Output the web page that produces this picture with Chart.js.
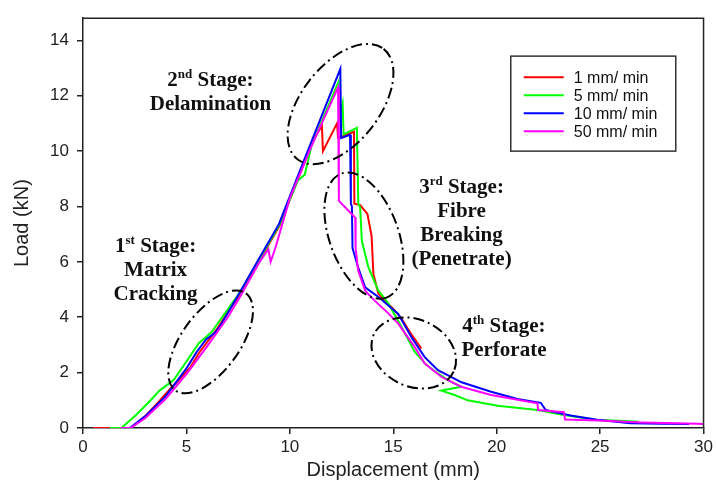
<!DOCTYPE html>
<html><head><meta charset="utf-8">
<script src="https://cdn.jsdelivr.net/npm/chart.js@4.4.0/dist/chart.umd.min.js"></script>
<style>html,body{margin:0;padding:0;background:#fff}</style>
</head><body>
<canvas id="c" width="716" height="490"></canvas>
<script>
// ---- data ----
const seriesNames = ['1 mm/ min', '5 mm/ min', '10 mm/ min', '50 mm/ min'];
const xTickValues = [0, 5, 10, 15, 20, 25, 30];
const yTickValues = [0, 2, 4, 6, 8, 10, 12, 14];

const dispR = [0.5, 1.3, 2.3, 3.0, 3.6, 4.2, 4.66, 5.2, 5.6, 6.5, 7.55, 8.5, 9.5, 10.5, 11.2, 11.55, 11.6, 12.28, 12.33, 13.1, 13.12, 13.4, 13.75, 13.95, 14.04, 14.28, 14.6, 15.0, 15.4, 15.7, 16.0, 16.36];
const loadR = [0, 0, 0, 0.42, 0.9, 1.4, 1.76, 2.2, 2.7, 3.6, 4.8, 6.0, 7.3, 9.2, 10.5, 10.9, 10.0, 11.0, 10.48, 10.7, 8.1, 8.05, 7.73, 6.95, 5.56, 4.85, 4.6, 4.3, 3.95, 3.58, 3.25, 2.87];

const dispG = [1.3, 1.86, 2.6, 3.2, 3.7, 4.2, 4.4, 5.0, 5.6, 6.2, 7.55, 8.5, 9.5, 10.4, 10.72, 11.05, 12.35, 12.4, 12.55, 12.6, 13.24, 13.31, 13.4, 13.48, 13.8, 14.28, 14.76, 15.4, 16.04, 16.6, 17.16, 17.7, 18.3, 17.32, 17.96, 18.6, 20.05, 21.97, 23.25, 24.86, 26.0, 26.86];
const loadG = [0, 0, 0.5, 0.95, 1.35, 1.63, 1.75, 2.4, 3.06, 3.45, 4.86, 6.05, 7.35, 8.95, 9.15, 10.2, 12.5, 11.3, 11.74, 10.6, 10.84, 8.1, 7.96, 6.76, 5.8, 4.96, 4.5, 3.65, 2.75, 2.28, 1.97, 1.7, 1.49, 1.35, 1.19, 1.0, 0.8, 0.65, 0.47, 0.29, 0.26, 0.23];

const dispB = [1.9, 2.26, 3.0, 4.0, 5.0, 5.5, 5.95, 6.35, 6.6, 7.55, 8.5, 9.47, 10.67, 12.44, 12.48, 12.91, 12.95, 13.0, 13.03, 13.3, 13.64, 14.3, 15.24, 15.88, 16.52, 17.16, 18.3, 19.73, 21.0, 22.13, 22.37, 23.57, 24.86, 26.46, 28.0, 29.3];
const loadB = [0, 0, 0.42, 1.15, 2.15, 2.75, 3.2, 3.42, 3.65, 4.86, 6.1, 7.36, 9.64, 12.97, 10.47, 10.59, 8.1, 8.0, 6.5, 5.8, 5.08, 4.72, 4.12, 3.28, 2.56, 2.09, 1.65, 1.31, 1.05, 0.91, 0.65, 0.45, 0.3, 0.17, 0.15, 0.14];

const dispM = [1.8, 2.3, 3.0, 4.0, 5.0, 6.0, 7.0, 7.6, 8.5, 8.96, 9.07, 9.3, 10.0, 11.0, 12.33, 12.37, 13.0, 13.16, 13.18, 13.3, 13.64, 14.1, 14.76, 15.24, 16.04, 16.52, 17.32, 18.28, 19.73, 21.97, 22.0, 23.25, 23.3, 24.9, 27.0, 29.7, 30.0];
const loadM = [0, 0, 0.35, 1.05, 1.95, 2.95, 4.0, 4.75, 5.95, 6.46, 6.0, 6.5, 8.3, 10.1, 12.3, 8.2, 7.72, 7.6, 6.5, 5.7, 4.96, 4.6, 4.14, 3.77, 2.92, 2.33, 1.85, 1.49, 1.19, 0.89, 0.65, 0.57, 0.31, 0.27, 0.2, 0.15, 0.14];

// ---- annotations (anchors in data units, sizes in px) ----
const ellipses = [
  {x: 6.17, y: 3.11, rx: 60, ry: 29, rot: -54},
  {x: 12.45, y: 11.70, rx: 70, ry: 39, rot: -52},
  {x: 13.58, y: 6.95, rx: 66, ry: 34.5, rot: 70},
  {x: 15.99, y: 2.71, rx: 44, ry: 33.5, rot: 25}
];
const stageLabels = [
  {x: 3.51, y: 6.37, first: ['1', 'st', ' Stage:'], rest: ['Matrix', 'Cracking']},
  {x: 6.16, y: 12.35, first: ['2', 'nd', ' Stage:'], rest: ['Delamination']},
  {x: 18.3, y: 8.50, first: ['3', 'rd', ' Stage:'], rest: ['Fibre', 'Breaking', '(Penetrate)']},
  {x: 20.35, y: 3.46, first: ['4', 'th', ' Stage:'], rest: ['Perforate']}
];
const colors = ['#ff0000', '#00ff00', '#0000ff', '#ff00ff'];

const zip = (xs, ys) => xs.map((v, i) => ({x: v, y: ys[i]}));
const seriesData = [zip(dispR, loadR), zip(dispG, loadG), zip(dispB, loadB), zip(dispM, loadM)];

const annot = {
  id: 'annot',
  afterDatasetsDraw(chart) {
    const {ctx, chartArea: a, scales: {x, y}} = chart;
    ctx.save();
    // frame top/right
    ctx.strokeStyle = '#222'; ctx.lineWidth = 1.5;
    ctx.beginPath(); ctx.moveTo(a.left, a.top); ctx.lineTo(a.right, a.top); ctx.lineTo(a.right, a.bottom); ctx.stroke();
    // ellipses
    ctx.strokeStyle = '#000'; ctx.lineWidth = 2; ctx.setLineDash([11, 4, 2, 4]);
    ellipses.forEach(e => {
      ctx.beginPath();
      ctx.ellipse(x.getPixelForValue(e.x), y.getPixelForValue(e.y), e.rx, e.ry, e.rot * Math.PI / 180, 0, Math.PI * 2);
      ctx.stroke();
    });
    ctx.setLineDash([]);
    // stage labels
    const big = 'bold 21px "Liberation Serif", "Times New Roman", serif';
    const small = 'bold 13px "Liberation Serif", "Times New Roman", serif';
    ctx.fillStyle = '#111'; ctx.textBaseline = 'alphabetic';
    stageLabels.forEach(s => {
      const cx = x.getPixelForValue(s.x), by = y.getPixelForValue(s.y);
      ctx.font = big; const w1 = ctx.measureText(s.first[0]).width, w3 = ctx.measureText(s.first[2]).width;
      ctx.font = small; const w2 = ctx.measureText(s.first[1]).width;
      let sx = cx - (w1 + w2 + w3) / 2;
      ctx.textAlign = 'left';
      ctx.font = big; ctx.fillText(s.first[0], sx, by);
      ctx.font = small; ctx.fillText(s.first[1], sx + w1, by - 8);
      ctx.font = big; ctx.fillText(s.first[2], sx + w1 + w2, by);
      ctx.textAlign = 'center';
      s.rest.forEach((t, i) => ctx.fillText(t, cx, by + 24 * (i + 1)));
    });
    // legend
    const lx = x.getPixelForValue(20.68), ly = y.getPixelForValue(13.43);
    ctx.strokeStyle = '#333'; ctx.lineWidth = 1.5;
    ctx.strokeRect(lx, ly, 165, 95);
    ctx.font = '16px "Liberation Sans", Arial, sans-serif'; ctx.textAlign = 'left'; ctx.textBaseline = 'middle';
    seriesNames.forEach((n, i) => {
      const ry = ly + 21 + 18 * i;
      ctx.strokeStyle = colors[i]; ctx.lineWidth = 2;
      ctx.beginPath(); ctx.moveTo(lx + 13, ry); ctx.lineTo(lx + 53, ry); ctx.stroke();
      ctx.fillStyle = '#111'; ctx.fillText(n, lx + 63, ry + 1);
    });
    ctx.restore();
  }
};

const order = [4, 3, 2, 1];
new Chart(document.getElementById('c'), {
  type: 'scatter',
  data: {
    datasets: seriesData.map((d, i) => ({
      label: seriesNames[i], data: d, showLine: true, borderColor: colors[i], backgroundColor: colors[i],
      borderWidth: 2, pointRadius: 0, tension: 0, order: order[i]
    }))
  },
  options: {
    responsive: false, animation: false, events: [],
    layout: {padding: {top: 17, right: 9, left: 0, bottom: 0}},
    plugins: {legend: {display: false}, tooltip: {enabled: false}},
    scales: {
      x: {
        type: 'linear', min: 0, max: 30,
        afterBuildTicks: s => { s.ticks = xTickValues.map(v => ({value: v})); },
        afterFit: s => { s.height = 62; },
        ticks: {color: '#222', font: {family: '"Liberation Sans", Arial', size: 17}, padding: 3, maxRotation: 0},
        grid: {drawOnChartArea: false, drawTicks: true, tickLength: 6, color: '#222', lineWidth: 1.5},
        border: {display: true, color: '#222', width: 1.5},
        title: {display: true, text: 'Displacement (mm)', color: '#222', font: {family: '"Liberation Sans", Arial', size: 20}, padding: {top: 0, bottom: 8}}
      },
      y: {
        type: 'linear', min: 0, max: 14.8,
        afterBuildTicks: s => { s.ticks = yTickValues.map(v => ({value: v})); },
        afterFit: s => { s.width = 83; },
        ticks: {color: '#222', font: {family: '"Liberation Sans", Arial', size: 17}, padding: 8},
        grid: {drawOnChartArea: false, drawTicks: true, tickLength: 6, color: '#222', lineWidth: 1.5},
        border: {display: true, color: '#222', width: 1.5},
        title: {display: true, text: 'Load (kN)', color: '#222', font: {family: '"Liberation Sans", Arial', size: 20}, padding: {top: 10, bottom: 0}}
      }
    }
  },
  plugins: [annot]
});
</script>
</body></html>
